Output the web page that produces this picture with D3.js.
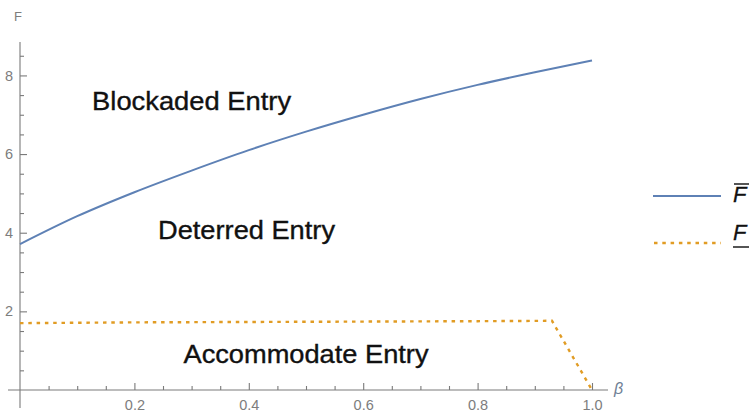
<!DOCTYPE html>
<html>
<head>
<meta charset="utf-8">
<script src="https://cdn.jsdelivr.net/npm/d3@7/dist/d3.min.js"></script>
<style>
  html, body { margin: 0; padding: 0; background: #fff; }
  svg { display: block; }
  text { font-family: "Liberation Sans", Arial, Helvetica, sans-serif; }
</style>
</head>
<body>
<svg id="chart" width="749" height="412"></svg>
<script>
// Upper threshold F̄(β): above it entry is blockaded
const betaUpper = [0, 0.1, 0.2, 0.3, 0.4, 0.5, 0.6, 0.7, 0.8, 0.9, 1.0];
const fUpper    = [3.71, 4.42, 5.03, 5.58, 6.10, 6.57, 7.00, 7.40, 7.76, 8.08, 8.38];

// Lower threshold F̲(β): below it entry is accommodated
const betaLower = [0, 0.2, 0.4, 0.6, 0.8, 0.93, 1.0];
const fLower    = [1.70, 1.72, 1.73, 1.74, 1.75, 1.76, 0];

// Axis ticks
const xMajorTicks = [0.2, 0.4, 0.6, 0.8, 1.0];
const xTickLabels = ["0.2", "0.4", "0.6", "0.8", "1.0"];
const yMajorTicks = [2, 4, 6, 8];
const yTickLabels = ["2", "4", "6", "8"];

// Region names
const regionNames = ["Blockaded Entry", "Deterred Entry", "Accommodate Entry"];
const regionBeta  = [0.30, 0.396, 0.50];
const regionF     = [7.12, 3.83, 0.69];

const svg = d3.select("#chart");
const blue = "#5E81B5", orange = "#E19C24", axisGray = "#7a7a7a", labelGray = "#7d7d7d";

const x = d3.scaleLinear().domain([0, 1]).range([20, 592]);
const y = d3.scaleLinear().domain([0, 8.85]).range([390, 42]);

// Minor ticks
const xMinor = d3.range(1, 21).map(i => i * 0.05).filter(v => !xMajorTicks.some(t => Math.abs(t - v) < 1e-9));
const yMinor = d3.range(1, 18).map(i => i * 0.5).filter(v => !yMajorTicks.some(t => Math.abs(t - v) < 1e-9));

// Axis lines
svg.append("line").attr("x1", x(0)).attr("x2", x(0)).attr("y1", y.range()[1]).attr("y2", y(0) + 18)
  .attr("stroke", axisGray).attr("stroke-width", 1.1);
svg.append("line").attr("x1", x(0) - 12).attr("x2", x(1) + 16).attr("y1", y(0)).attr("y2", y(0))
  .attr("stroke", axisGray).attr("stroke-width", 1.1);

// Y axis (ticks point inward)
svg.append("g").attr("transform", `translate(${x(0)},0)`)
  .call(d3.axisLeft(y).tickValues(yMajorTicks).tickSize(-7).tickPadding(7)
        .tickFormat((d, i) => yTickLabels[i]));
svg.append("g").attr("transform", `translate(${x(0)},0)`)
  .call(d3.axisLeft(y).tickValues(yMinor).tickSize(-4).tickFormat(""));

// X axis
svg.append("g").attr("transform", `translate(0,${y(0)})`)
  .call(d3.axisBottom(x).tickValues(xMajorTicks).tickSize(-7).tickPadding(10)
        .tickFormat((d, i) => xTickLabels[i]));
svg.append("g").attr("transform", `translate(0,${y(0)})`)
  .call(d3.axisBottom(x).tickValues(xMinor).tickSize(-4).tickFormat(""));

svg.selectAll(".domain").remove();
svg.selectAll(".tick line").attr("stroke", axisGray).attr("stroke-width", 1.1);
svg.selectAll(".tick text").attr("fill", labelGray).attr("font-size", 14.5)
  .attr("font-family", "Liberation Sans, Arial, sans-serif");

// Axis titles
svg.append("text").attr("x", 14).attr("y", 21).attr("font-size", 13).attr("fill", labelGray).text("F");
svg.append("text").attr("x", 614).attr("y", 394).attr("font-size", 16).attr("font-style", "italic")
  .attr("fill", "#6f7f95").text("β");

// Curves
const upperPts = betaUpper.map((b, i) => [b, fUpper[i]]);
const lowerPts = betaLower.map((b, i) => [b, fLower[i]]);

svg.append("path").datum(upperPts)
  .attr("d", d3.line().x(d => x(d[0])).y(d => y(d[1])).curve(d3.curveMonotoneX))
  .attr("fill", "none").attr("stroke", blue).attr("stroke-width", 2);

svg.append("path").datum(lowerPts)
  .attr("d", d3.line().x(d => x(d[0])).y(d => y(d[1])).curve(d3.curveLinear))
  .attr("fill", "none").attr("stroke", orange).attr("stroke-width", 2.4)
  .attr("stroke-dasharray", "3.5,4.8");

// Region labels
const widths = [199, 177, 245];
regionNames.forEach((name, i) => {
  svg.append("text")
    .attr("x", x(regionBeta[i])).attr("y", y(regionF[i]))
    .attr("text-anchor", "middle").attr("font-size", 25).attr("fill", "#111")
    .attr("stroke", "#111").attr("stroke-width", 0.35)
    .attr("textLength", widths[i]).attr("lengthAdjust", "spacingAndGlyphs")
    .text(name);
});

// Legend
const legend = svg.append("g");
legend.append("line").attr("x1", 653).attr("x2", 721).attr("y1", 196).attr("y2", 196)
  .attr("stroke", blue).attr("stroke-width", 2);
legend.append("text").attr("x", 733).attr("y", 202).attr("font-size", 22).attr("font-style", "italic")
  .attr("fill", "#111").attr("stroke", "#111").attr("stroke-width", 0.3).text("F");
legend.append("line").attr("x1", 734).attr("x2", 749).attr("y1", 184).attr("y2", 184)
  .attr("stroke", "#555").attr("stroke-width", 2);

legend.append("line").attr("x1", 654).attr("x2", 721).attr("y1", 243).attr("y2", 243)
  .attr("stroke", orange).attr("stroke-width", 2.4).attr("stroke-dasharray", "3.5,4.8");
legend.append("text").attr("x", 733).attr("y", 240).attr("font-size", 22).attr("font-style", "italic")
  .attr("fill", "#111").attr("stroke", "#111").attr("stroke-width", 0.3).text("F");
legend.append("line").attr("x1", 733).attr("x2", 749).attr("y1", 247).attr("y2", 247)
  .attr("stroke", "#555").attr("stroke-width", 2);
</script>
</body>
</html>
